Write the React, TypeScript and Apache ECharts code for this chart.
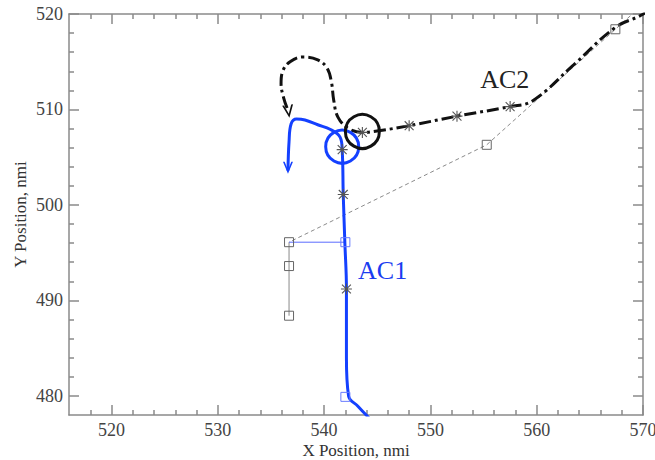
import React, { useEffect, useRef } from "react";
import * as echarts from "echarts";

const xMajorTicks = [520, 530, 540, 550, 560, 570];
const yMajorTicks = [480, 490, 500, 510, 520];

// AC1 trajectory (blue)
const ac1Path: number[][] = [
  [544.3, 477.6], [543.2, 478.9], [542.3, 480.0], [542.1, 484.0], [542.1, 488.0],
  [542.1, 491.2], [541.95, 496.1], [541.8, 501.1], [541.7, 505.8], [541.5, 507.1],
  [540.6, 507.9], [539.4, 508.4], [538.2, 508.9], [537.4, 509.0], [536.9, 508.5],
  [536.7, 506.6], [536.6, 503.6],
];
// AC2 trajectory (black dashed)
const ac2Path: number[][] = [
  [570.6, 520.4], [569.7, 519.8], [567.4, 518.6], [563.5, 514.7], [559.6, 510.9],
  [557.5, 510.3], [552.5, 509.3], [548.0, 508.3], [545.3, 507.8], [543.6, 507.6],
  [542.3, 508.0], [541.3, 509.2], [540.9, 511.0], [540.7, 512.8], [540.3, 514.3],
  [539.4, 515.2], [538.0, 515.5], [536.8, 515.0], [536.1, 514.0], [535.95, 512.7],
  [536.2, 511.2], [536.6, 509.9],
];
// thin gray dashed track
const grayDashed: number[][] = [
  [569.3, 520.3], [567.4, 518.4], [555.3, 506.3], [536.7, 496.1],
];
const graySolid: number[][] = [
  [536.7, 496.1], [536.7, 488.4],
];
const blueThin: number[][] = [
  [536.7, 496.1], [542.0, 496.1],
];
const graySquares: number[][] = [
  [567.4, 518.4], [555.3, 506.3], [536.7, 496.1], [536.7, 493.6], [536.7, 488.4],
];
const blueSquares: number[][] = [
  [542.0, 496.1], [542.0, 479.9],
];
const stars: number[][] = [
  [541.8, 501.1], [542.1, 491.2], [541.7, 505.8], [543.6, 507.6], [548.0, 508.3],
  [552.5, 509.3], [557.5, 510.3],
];
const blueCircle: number[][] = [[541.7, 506.1]];
const blackCircle: number[][] = [[543.6, 507.7]];
const blueArrow: number[][] = [[536.6, 503.9]];
const blackArrow: number[][] = [[536.65, 509.8]];
const labelAC1 = { name: "AC1", value: [545.5, 493.1] };
const labelAC2 = { name: "AC2", value: [557.0, 513.1] };

const FONT = "'Liberation Serif', 'DejaVu Serif', serif";
const AXIS_COLOR = "#8a8a8a";
const BLUE = "#1440ff";

const STAR =
  "path://M4.5,0 H5.5 V10 H4.5 Z M0,4.5 H10 V5.5 H0 Z M0.6,1.3 L1.3,0.6 L9.4,8.7 L8.7,9.4 Z M8.7,0.6 L9.4,1.3 L1.3,9.4 L0.6,8.7 Z";
const CHEVRON = "path://M0,0 L5,10 L10,0 L8.3,0 L5,6.8 L1.7,0 Z";

function makeMinor(min: number, max: number, step: number, majors: number[]) {
  const out: number[] = [];
  for (let v = min; v <= max; v += step) {
    if (!majors.includes(v)) out.push(v);
  }
  return out;
}

export default function App() {
  const ref = useRef<HTMLDivElement>(null);
  useEffect(() => {
    if (!ref.current) return;
    const chart = echarts.init(ref.current, undefined, { renderer: "svg" });
    const xMinor = makeMinor(518, 568, 2, xMajorTicks);
    const yMinor = makeMinor(480, 518, 2, yMajorTicks);
    const lineStyle = { color: AXIS_COLOR, width: 1.5 };
    const baseX = { type: "value", min: 516, max: 570, splitLine: { show: false } };
    const baseY = { type: "value", min: 478, max: 520, splitLine: { show: false } };
    const labelStyle = { fontFamily: FONT, fontSize: 18, color: "#444" };
    const transparent = "rgba(255,255,255,0)";

    chart.setOption({
      animation: false,
      backgroundColor: "#fff",
      grid: { left: 69, top: 14, right: 12, bottom: 45, containLabel: false, outerBoundsMode: "none" },
      xAxis: [
        {
          ...baseX, position: "bottom",
          axisLine: { show: true, lineStyle },
          axisTick: { show: true, inside: true, length: 10, lineStyle, customValues: xMajorTicks },
          axisLabel: { show: true, margin: 6, customValues: xMajorTicks, ...labelStyle },
          name: "X Position, nmi", nameLocation: "middle", nameGap: 27, nameMoveOverlap: false,
          nameTextStyle: { fontFamily: FONT, fontSize: 17, color: "#333" },
        },
        {
          ...baseX, position: "bottom",
          axisLine: { show: false },
          axisTick: { show: true, inside: true, length: 5, lineStyle, customValues: xMinor },
          axisLabel: { show: false },
        },
        {
          ...baseX, position: "top",
          axisLine: { show: true, lineStyle },
          axisTick: { show: true, inside: true, length: 10, lineStyle, customValues: xMajorTicks },
          axisLabel: { show: false },
        },
        {
          ...baseX, position: "top",
          axisLine: { show: false },
          axisTick: { show: true, inside: true, length: 5, lineStyle, customValues: xMinor },
          axisLabel: { show: false },
        },
      ],
      yAxis: [
        {
          ...baseY, position: "left",
          axisLine: { show: true, lineStyle },
          axisTick: { show: true, inside: true, length: 10, lineStyle, customValues: yMajorTicks },
          axisLabel: { show: true, margin: 6, customValues: yMajorTicks, ...labelStyle },
          name: "Y Position, nmi", nameLocation: "middle", nameGap: 40, nameRotate: 90, nameMoveOverlap: false,
          nameTextStyle: { fontFamily: FONT, fontSize: 17, color: "#333" },
        },
        {
          ...baseY, position: "left",
          axisLine: { show: false },
          axisTick: { show: true, inside: true, length: 5, lineStyle, customValues: yMinor },
          axisLabel: { show: false },
        },
        {
          ...baseY, position: "right",
          axisLine: { show: true, lineStyle },
          axisTick: { show: true, inside: true, length: 10, lineStyle, customValues: yMajorTicks },
          axisLabel: { show: false },
        },
        {
          ...baseY, position: "right",
          axisLine: { show: false },
          axisTick: { show: true, inside: true, length: 5, lineStyle, customValues: yMinor },
          axisLabel: { show: false },
        },
      ],
      series: [
        {
          type: "line", data: grayDashed, symbol: "none", clip: true,
          lineStyle: { color: "#8a8a8a", width: 1, type: [4, 3] },
        },
        {
          type: "line", data: graySolid, symbol: "none",
          lineStyle: { color: "#8a8a8a", width: 1 },
        },
        {
          type: "line", data: blueThin, symbol: "none",
          lineStyle: { color: "#5a6cff", width: 1 },
        },
        {
          type: "line", data: ac1Path, symbol: "none", smooth: 0.4, clip: true,
          lineStyle: { color: BLUE, width: 3 },
        },
        {
          type: "line", data: ac2Path, symbol: "none", smooth: 0.4, clip: true,
          lineStyle: { color: "#111", width: 3, type: [12, 4, 3, 4] },
        },
        {
          type: "scatter", data: graySquares, symbol: "rect", symbolSize: 9, z: 3,
          itemStyle: { color: transparent, borderColor: "#666", borderWidth: 1, opacity: 1 },
        },
        {
          type: "scatter", data: blueSquares, symbol: "rect", symbolSize: 9, z: 3,
          itemStyle: { color: transparent, borderColor: "#6a7cff", borderWidth: 1, opacity: 1 },
        },
        {
          type: "scatter", data: stars, symbol: STAR, symbolSize: 11, z: 3,
          itemStyle: { color: "#555", opacity: 1 },
        },
        {
          type: "scatter", data: blueCircle, symbol: "circle", symbolSize: 33, z: 3,
          itemStyle: { color: transparent, borderColor: BLUE, borderWidth: 3, opacity: 1 },
        },
        {
          type: "scatter", data: blackCircle, symbol: "circle", symbolSize: 34, z: 3,
          itemStyle: { color: transparent, borderColor: "#111", borderWidth: 3, opacity: 1 },
        },
        {
          type: "scatter", data: blueArrow, symbol: CHEVRON, symbolSize: [10, 12], z: 4,
          itemStyle: { color: BLUE, opacity: 1 },
        },
        {
          type: "scatter", data: blackArrow, symbol: CHEVRON, symbolSize: [11, 13], z: 4,
          symbolRotate: 8,
          itemStyle: { color: "#111", opacity: 1 },
        },
        {
          type: "scatter", data: [labelAC1], symbolSize: 1, z: 4,
          itemStyle: { color: transparent, opacity: 1 },
          label: { show: true, position: "inside", formatter: "{b}", fontFamily: FONT, fontSize: 26, color: "#1a3cf0", opacity: 1 },
        },
        {
          type: "scatter", data: [labelAC2], symbolSize: 1, z: 4,
          itemStyle: { color: transparent, opacity: 1 },
          label: { show: true, position: "inside", formatter: "{b}", fontFamily: FONT, fontSize: 26, color: "#222", opacity: 1 },
        },
      ],
    });
    return () => chart.dispose();
  }, []);
  return (
    <div
      ref={ref}
      style={{ position: "fixed", left: 0, top: 0, width: 655, height: 460, background: "#fff" }}
    />
  );
}
